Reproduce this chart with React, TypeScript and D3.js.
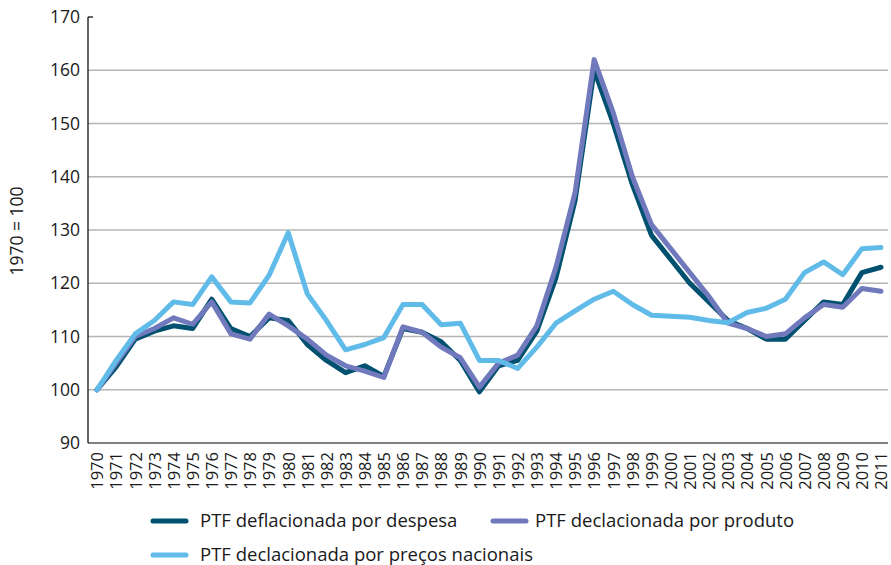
import React, { useRef, useEffect } from "react";
import * as d3 from "d3";

// Anos (eixo x)
const years = d3.range(1970, 2012).map(String);

// Séries (1970 = 100)
const despesa = [
  100, 104.3, 109.5, 111, 112, 111.5, 117, 111.5, 110, 113.5, 113, 108.5, 105.5, 103.2, 104.5, 102.5,
  111.5, 110.8, 109, 105.5, 99.6, 104.5, 105.5, 111, 121, 135.5, 160, 150, 138.5, 129, 124.5, 120,
  116.5, 113, 111.5, 109.5, 109.5, 113, 116.5, 116, 122, 123,
];
const produto = [
  100, 105, 110, 111.5, 113.5, 112.3, 116.5, 110.5, 109.5, 114.2, 112, 109.5, 106.5, 104.5, 103.5, 102.3,
  111.8, 110.8, 108, 106, 100.5, 105, 106.5, 112, 123, 137, 162, 152, 140, 131, 126.5, 122,
  117.5, 112.5, 111.5, 110, 110.5, 113.5, 116, 115.5, 119, 118.5,
];
const precos = [
  100, 105.5, 110.5, 113, 116.5, 116, 121.2, 116.5, 116.3, 121.5, 129.5, 118, 113, 107.5, 108.5, 109.8,
  116, 116, 112.2, 112.5, 105.5, 105.5, 104, 108, 112.5, 114.8, 117, 118.5, 116, 114, 113.8, 113.6,
  113, 112.6, 114.5, 115.3, 117, 122, 124, 121.6, 126.5, 126.7,
];

const yTicks = [90, 100, 110, 120, 130, 140, 150, 160, 170];

const series = [
  { name: "PTF deflacionada por despesa", values: despesa, color: "#00506f" },
  { name: "PTF declacionada por produto", values: produto, color: "#7179bd" },
  { name: "PTF declacionada por preços nacionais", values: precos, color: "#60bbe8" },
];

export default function App() {
  const svgRef = useRef<SVGSVGElement>(null);

  useEffect(() => {
    const W = 891;
    const H = 565;
    const margin = { top: 17, right: 3, bottom: 122, left: 88 };
    const width = W - margin.left - margin.right;
    const height = H - margin.top - margin.bottom;
    const font = "'Open Sans', 'DejaVu Sans', sans-serif";
    const ink = "#1a1a1a";

    const root = d3.select(svgRef.current);
    root.selectAll("*").remove();
    root.attr("width", W).attr("height", H).style("font-family", font);

    const svg = root.append("g").attr("transform", `translate(${margin.left},${margin.top})`);

    const x = d3.scalePoint().domain(years).range([9, width - 7]);
    const y = d3.scaleLinear().domain([90, 170]).range([height, 0]);

    // Linhas de grade
    svg
      .append("g")
      .selectAll("line")
      .data(yTicks.filter((t) => t > 90 && t < 170))
      .enter()
      .append("line")
      .attr("x1", 0)
      .attr("x2", width)
      .attr("y1", (d) => y(d))
      .attr("y2", (d) => y(d))
      .attr("stroke", "#b5b5b5")
      .attr("stroke-width", 1.5);

    // Eixo y
    const yAxis = svg
      .append("g")
      .call(d3.axisLeft(y).tickValues(yTicks).tickSize(0).tickPadding(8));
    yAxis.select(".domain").remove();
    yAxis.selectAll("text").style("font-size", "17.5px").style("font-family", font).attr("fill", ink);

    svg
      .append("line")
      .attr("x1", 0)
      .attr("x2", 0)
      .attr("y1", 0)
      .attr("y2", height)
      .attr("stroke", "#000")
      .attr("stroke-width", 1.2);
    svg
      .append("line")
      .attr("x1", 0)
      .attr("x2", 5)
      .attr("y1", 0)
      .attr("y2", 0)
      .attr("stroke", "#000")
      .attr("stroke-width", 1.2);

    // Eixo x
    const xAxis = svg
      .append("g")
      .attr("transform", `translate(0,${height})`)
      .call(d3.axisBottom(x).tickSize(0));
    xAxis.select(".domain").remove();
    xAxis
      .selectAll("text")
      .style("font-size", "16.5px")
      .style("font-family", font)
      .attr("fill", ink)
      .attr("transform", "rotate(-90)")
      .attr("text-anchor", "end")
      .attr("x", -9)
      .attr("y", 0)
      .attr("dy", "0.35em");

    svg
      .append("line")
      .attr("x1", 0)
      .attr("x2", width)
      .attr("y1", height)
      .attr("y2", height)
      .attr("stroke", "#000")
      .attr("stroke-width", 1.2);

    // Linhas
    const line = d3
      .line<number>()
      .x((_, i) => x(years[i]) as number)
      .y((d) => y(d));

    series.forEach((s) => {
      svg
        .append("path")
        .datum(s.values)
        .attr("fill", "none")
        .attr("stroke", s.color)
        .attr("stroke-width", 5)
        .attr("stroke-linejoin", "round")
        .attr("stroke-linecap", "round")
        .attr("d", line);
    });

    // Título do eixo y
    root
      .append("text")
      .attr("transform", `translate(17,231) rotate(-90)`)
      .attr("text-anchor", "middle")
      .attr("dy", "0.35em")
      .style("font-size", "17.5px")
      .attr("fill", ink)
      .text("1970 = 100");

    // Legenda
    const legendPos = [
      { x: 153, y: 521 },
      { x: 493, y: 521 },
      { x: 153, y: 555 },
    ];
    series.forEach((s, i) => {
      const p = legendPos[i];
      const g = root.append("g").attr("transform", `translate(${p.x},${p.y})`);
      g.append("line")
        .attr("x1", 0)
        .attr("x2", 33)
        .attr("y1", 0)
        .attr("y2", 0)
        .attr("stroke", s.color)
        .attr("stroke-width", 5)
        .attr("stroke-linecap", "round");
      g.append("text")
        .attr("x", i === 1 ? 42 : 47)
        .attr("dy", "0.35em")
        .style("font-size", "18.5px")
        .attr("fill", ink)
        .text(s.name);
    });
  }, []);

  return <svg ref={svgRef} style={{ position: "absolute", left: 0, top: 0 }}></svg>;
}
